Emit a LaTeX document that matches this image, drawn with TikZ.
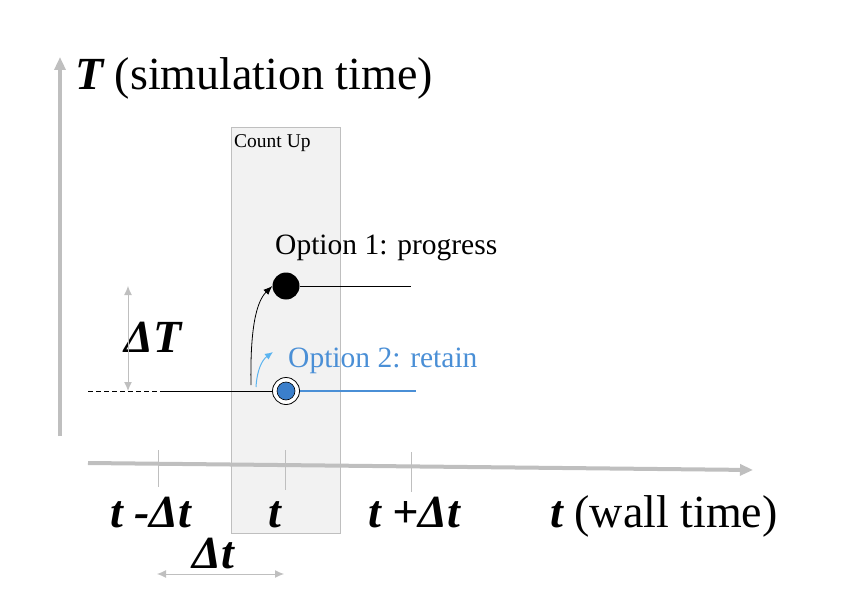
\documentclass[tikz,border=0pt]{standalone}
\usepackage{fontspec}
\setmainfont{Liberation Serif}
\usetikzlibrary{arrows.meta}
\definecolor{axgray}{HTML}{BFBFBF}
\definecolor{boxfill}{HTML}{F2F2F2}
\definecolor{optblue}{HTML}{4A8FD6}
\definecolor{dotblue}{HTML}{3B7FCB}
\definecolor{arrblue}{HTML}{5BB4F0}
\tikzset{
  axis/.style={draw=axgray, line width=4pt, -{Triangle[length=13pt,width=11pt]}},
  tick/.style={draw=axgray, line width=1pt},
  dim/.style={draw=axgray, line width=1pt, {Latex[length=9pt,width=8pt]}-{Latex[length=9pt,width=8pt]}},
  big/.style={font=\fontsize{46}{50}\selectfont, inner sep=0pt, anchor=base west},
  opt/.style={font=\fontsize{29.5}{33}\selectfont, inner sep=0pt, anchor=base west},
}
\begin{document}
\begin{tikzpicture}[x=1pt,y=-1pt]
\useasboundingbox (0,0) rectangle (842,604);
% count up box
\node[draw=axgray, fill=boxfill, line width=1pt, minimum width=109pt, minimum height=406pt, inner sep=0pt, anchor=north west] (box) at (231,127) {};
\node[font=\fontsize{19.5}{22}\selectfont, inner sep=0pt, anchor=base west] (cnt) at (234,148) {Count Up};
% axes
\coordinate (v0) at (60,436);
\coordinate (v1) at (60,57);
\draw[axis] (v0) -- (v1);
\coordinate (h0) at (88,463);
\coordinate (h1) at (753,470);
\draw[axis] (h0) -- (h1);
% ticks
\coordinate (ta0) at (158,450); \coordinate (ta1) at (158,487);
\coordinate (tb0) at (285,450); \coordinate (tb1) at (285,490);
\coordinate (tc0) at (411,452); \coordinate (tc1) at (411,492);
\draw[tick] (ta0) -- (ta1);
\draw[tick] (tb0) -- (tb1);
\draw[tick] (tc0) -- (tc1);
% labels
\node[big] (tlab) at (75,90) {\bfseries\itshape T\mdseries\upshape\ (simulation time)};
\node[big] (tm) at (110,527) {\bfseries\itshape t -Δt};
\node[big] (t0) at (268,527) {\bfseries\itshape t};
\node[big] (tp) at (368,527) {\bfseries\itshape t +Δt};
\node[big] (wall) at (550,527) {\bfseries\itshape t\mdseries\upshape\ (wall time)};
\node[big] (dT) at (124,352) {\bfseries\itshape ΔT};
\node[big] (dt) at (192,568) {\bfseries\itshape Δt};
% dimension arrows
\coordinate (dT0) at (128,286); \coordinate (dT1) at (128,391);
\draw[dim] (dT0) -- (dT1);
\coordinate (dt0) at (157,574); \coordinate (dt1) at (284,574);
\draw[dim] (dt0) -- (dt1);
% option 1
\node[opt] (o1) at (275,254) {Option 1: progress};
\node[circle, fill=black, minimum size=27pt, inner sep=0pt] (d1) at (286,286) {};
\coordinate (e1) at (411,286);
\draw[line width=0.8pt] (d1.east) -- (e1);
% option 2
\node[opt, text=optblue] (o2) at (288,367) {Option 2: retain};
\node[circle, draw=black, fill=white, line width=0.8pt, minimum size=27pt, inner sep=0pt] (d2o) at (286,391) {};
\node[circle, draw=black, fill=dotblue, line width=0.6pt, minimum size=18pt, inner sep=0pt] (d2) at (286,391) {};
\coordinate (e2) at (416,391);
\draw[draw=optblue, line width=1.2pt] (d2o.east) -- (e2);
% incoming line
\coordinate (l0) at (88,391);
\coordinate (l1) at (165,391);
\draw[line width=0.8pt, dash pattern=on 5pt off 3pt] (l0) -- (l1);
\draw[line width=0.8pt] (l1) -- (d2o.west);
% curved arrows
\coordinate (c1) at (251,385);
\draw[line width=0.8pt, -{Latex[length=9pt,width=7pt]}] (c1) .. controls (250,330) and (256,302) .. (d1.west);
\coordinate (c2) at (256,387);
\draw[draw=arrblue, line width=1pt, -{Latex[length=8pt,width=7pt]}] (c2) .. controls (257,370) and (262,360) .. (273,352);
\end{tikzpicture}
\end{document}
